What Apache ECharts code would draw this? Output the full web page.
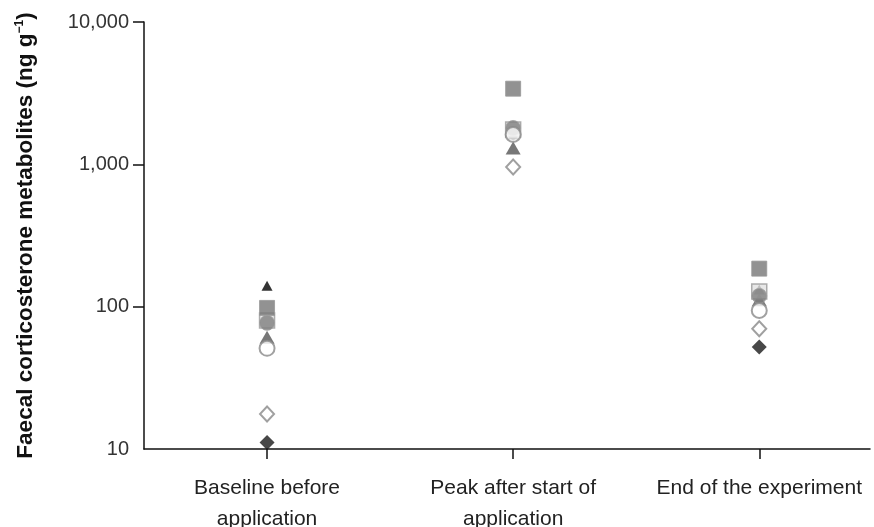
<!DOCTYPE html>
<html><head><meta charset="utf-8">
<script src="https://cdn.jsdelivr.net/npm/echarts@6/dist/echarts.min.js"></script>
<style>html,body{margin:0;padding:0;background:#fff}#c{width:874px;height:527px}</style>
</head><body><div id="c"></div>
<script>
const categories = ['Baseline before\napplication', 'Peak after start of\napplication', 'End of the experiment'];
const yTicks = [10, 100, 1000, 10000];
// values per time point (baseline, peak, end)
const blackDiamond  = [11.1, 1650, 52];
const blackTriangle = [140, 1620, 132];
const grayTriangle  = [61, 1300, 112];
const lightSquare   = [80, 1760, 128];
const darkSquare    = [98, 3400, 185];
const grayCircle    = [77, 1800, 119];
const whiteCircle   = [51, 1620, 94];
const openDiamond   = [17.6, 957, 70];

const xpos = [1, 2, 3];
function pts(arr){ return arr.map((v,i)=>[xpos[i], v]); }

const seriesDefs = [
  {name:'blackDiamond', data:blackDiamond, symbol:'diamond', size:[15,15], style:{color:'#1a1a1a'}},
  {name:'blackTriangle', data:blackTriangle, symbol:'triangle', size:[11,10], style:{color:'#000'}},
  {name:'grayTriangle', data:grayTriangle, symbol:'triangle', size:[15,13], style:{color:'#555'}},
  {name:'lightSquare', data:lightSquare, symbol:'rect', size:15, style:{color:'#e2e2e2', borderColor:'#9a9a9a', borderWidth:1.5}},
  {name:'darkSquare', data:darkSquare, symbol:'rect', size:15, style:{color:'#777', borderColor:'#999', borderWidth:1}},
  {name:'grayCircle', data:grayCircle, symbol:'circle', size:15, style:{color:'#808080', borderColor:'#a0a0a0', borderWidth:1}},
  {name:'whiteCircle', data:whiteCircle, symbol:'circle', size:15, style:{color:'#fff', borderColor:'#8a8a8a', borderWidth:2}},
  {name:'openDiamond', data:openDiamond, symbol:'diamond', size:[14,15], style:{color:'#fff', borderColor:'#888', borderWidth:2}}
];

const FF = 'Liberation Sans, Arial, sans-serif';
const chart = echarts.init(document.getElementById('c'), null, {renderer:'canvas'});
chart.setOption({
  animation:false,
  grid:{left:144, right:4, top:22, bottom:78, containLabel:false, outerBoundsMode:'none'},
  xAxis:{
    type:'value', min:0.5, max:3.45,
    axisLine:{show:true, lineStyle:{color:'#111', width:1.5}},
    axisTick:{show:true, length:10, lineStyle:{color:'#111', width:1.5}, customValues:xpos},
    axisLabel:{customValues:xpos, formatter:v=>categories[Math.round(v)-1] || '', fontFamily:FF, fontSize:21, color:'#222', lineHeight:31, margin:24},
    splitLine:{show:false}
  },
  yAxis:{
    type:'log', logBase:10, min:10, max:10000,
    axisLine:{show:true, lineStyle:{color:'#111', width:1.5}},
    axisTick:{show:true, length:11, lineStyle:{color:'#111', width:1.5}, customValues:[100,1000,10000]},
    axisLabel:{customValues:yTicks, formatter:v=>Number(v).toLocaleString('en-US'), fontFamily:FF, fontSize:20, color:'#333', margin:15},
    splitLine:{show:false},
    name:'{a|Faecal corticosterone metabolites (ng g}{s|−1}{a|)}',
    nameLocation:'middle', nameRotate:90, nameGap:107,
    nameTextStyle:{rich:{
      a:{fontFamily:FF, fontSize:22.5, fontWeight:'bold', color:'#111'},
      s:{fontFamily:FF, fontSize:12, fontWeight:'bold', color:'#111', verticalAlign:'top', padding:[0,0,9,0]}
    }}
  },
  series: seriesDefs.map((d,i)=>({
    type:'scatter', name:d.name, data:pts(d.data), symbol:d.symbol, symbolSize:d.size,
    itemStyle:d.style, z:2+i, emphasis:{disabled:true}
  }))
});
</script></body></html>
